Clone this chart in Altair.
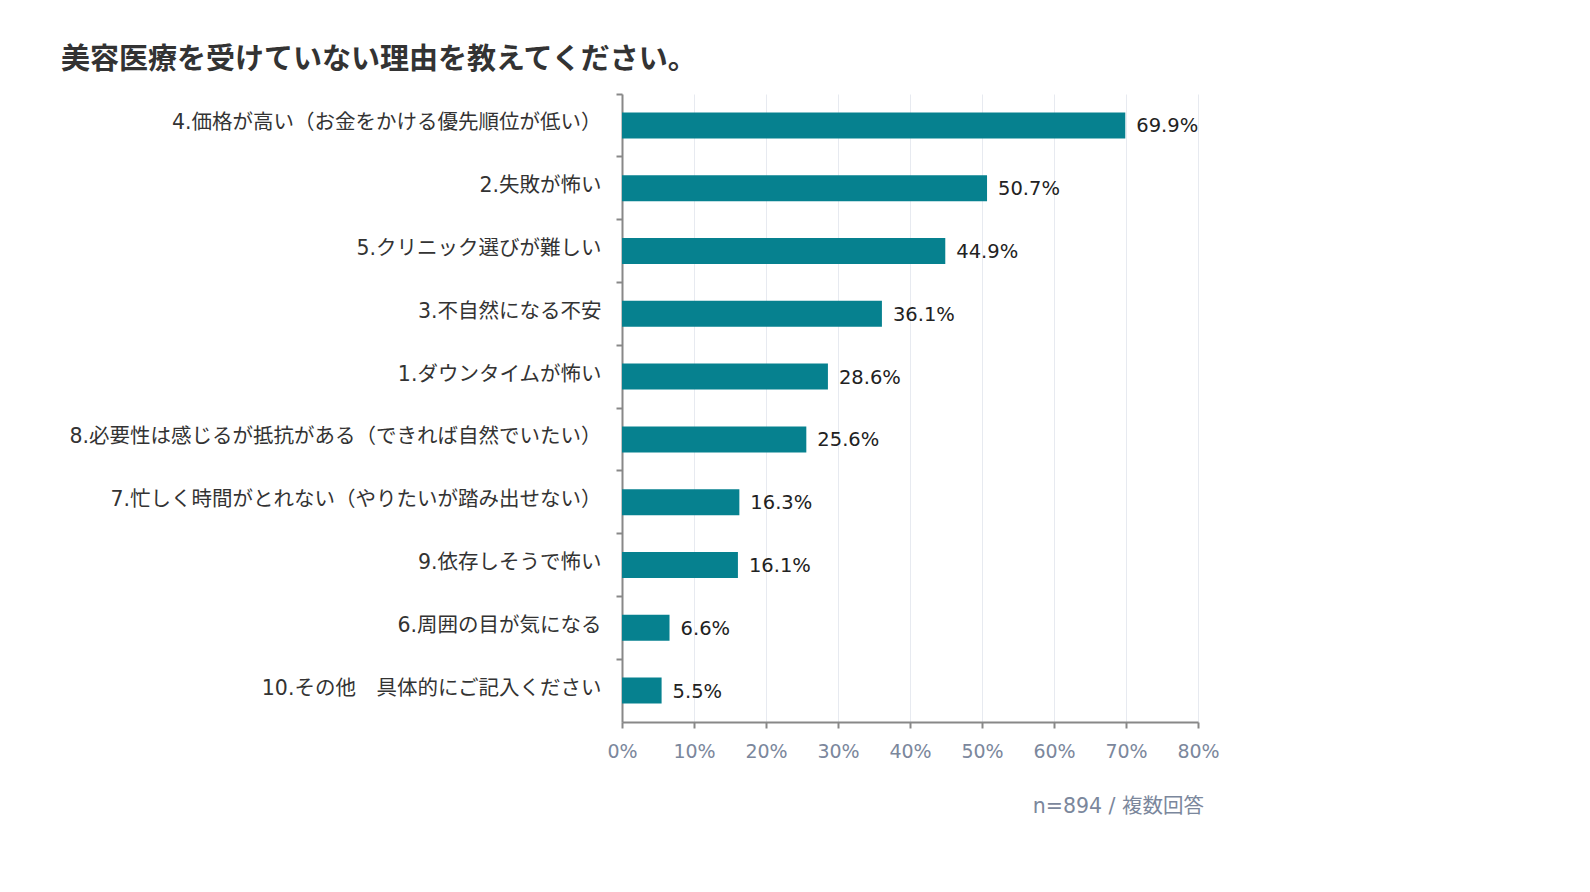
import altair as alt
import pandas as pd

# ---------------------------------------------------------
# DATA
# ---------------------------------------------------------
reasons = [
    "4.価格が高い（お金をかける優先順位が低い）",
    "2.失敗が怖い",
    "5.クリニック選びが難しい",
    "3.不自然になる不安",
    "1.ダウンタイムが怖い",
    "8.必要性は感じるが抵抗がある（できれば自然でいたい）",
    "7.忙しく時間がとれない（やりたいが踏み出せない）",
    "9.依存しそうで怖い",
    "6.周囲の目が気になる",
    "10.その他　具体的にご記入ください",
]
shares = [69.9, 50.7, 44.9, 36.1, 28.6, 25.6, 16.3, 16.1, 6.6, 5.5]
x_ticks = [0, 10, 20, 30, 40, 50, 60, 70, 80]

title_text = "美容医療を受けていない理由を教えてください。"
note_text = "n=894 / 複数回答"

df = pd.DataFrame({"reason": reasons, "share": shares})
df["label"] = df["share"].map(lambda v: f"{v:.1f}%")

# Verdana-like latin + CJK fallback (close to Meiryo)
FONT = "'DejaVu Sans', 'Noto Sans CJK JP'"
TITLE_FONT = "Noto Sans CJK JP"
BAR = "#06818f"
AXIS_GRAY = "#7b879c"
LINE_GRAY = "#888888"

# ---------------------------------------------------------
# CHART
# ---------------------------------------------------------
y_enc = alt.Y(
    "reason:N",
    sort=reasons,
    scale=alt.Scale(paddingInner=0, paddingOuter=0),
    axis=alt.Axis(
        title=None,
        bandPosition=0,
        labelFont=FONT,
        labelFontSize=20.5,
        labelColor="#333333",
        labelPadding=15,
        labelLimit=700,
        labelOffset=-2,
        tickSize=6,
        tickColor=LINE_GRAY,
        tickWidth=2,
        domainColor=LINE_GRAY,
        domainWidth=2,
        grid=False,
    ),
)
x_enc = alt.X(
    "share:Q",
    scale=alt.Scale(domain=[0, 80], nice=False),
    axis=alt.Axis(
        title=None,
        values=x_ticks,
        labelExpr="datum.value + '%'",
        labelFlush=False,
        labelFont=FONT,
        labelFontSize=19,
        labelColor=AXIS_GRAY,
        labelPadding=14,
        tickSize=6,
        tickColor=LINE_GRAY,
        tickWidth=2,
        domainColor=LINE_GRAY,
        domainWidth=2,
        gridColor="#e7eaf0",
        gridWidth=1,
    ),
)

bars = alt.Chart(df).mark_bar(size=26, color=BAR).encode(x=x_enc, y=y_enc)

labels = alt.Chart(df).mark_text(
    align="left", baseline="middle", dx=11, dy=1, font=FONT, fontSize=19.5, color="#222222"
).encode(x="share:Q", y=alt.Y("reason:N", sort=reasons), text="label:N")

note = alt.Chart(pd.DataFrame({"t": [note_text]})).mark_text(
    align="right", baseline="middle", font=FONT, fontSize=20.5, color=AXIS_GRAY
).encode(x=alt.value(582), y=alt.value(713), text="t:N")

chart = (
    alt.layer(bars, labels, note)
    .properties(
        width=576,
        height=628,
        autosize=alt.AutoSizeParams(type="none"),
        padding={"left": 614, "top": 86, "right": 300, "bottom": 150},
        title=alt.TitleParams(
            title_text,
            anchor="start",
            frame="group",
            dx=-561,
            offset=18,
            font=TITLE_FONT,
            fontSize=29,
            fontWeight="bold",
            color="#333333",
        ),
    )
    .configure_view(stroke=None)
)

chart.save("out.html", embed_options={"renderer": "svg", "actions": False})
